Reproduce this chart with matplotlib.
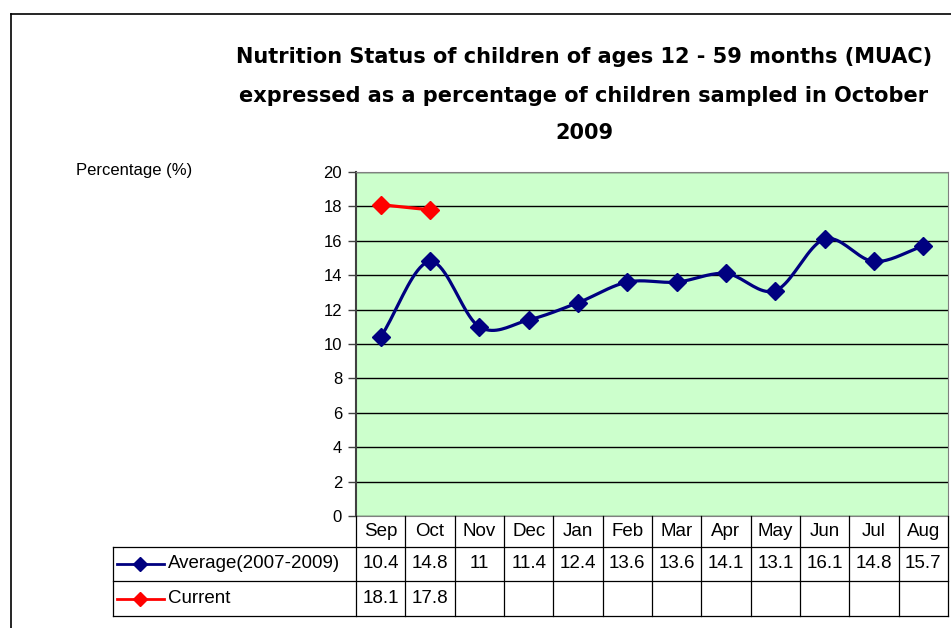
import numpy as np
import matplotlib.pyplot as plt
from matplotlib.lines import Line2D

months = ["Sep", "Oct", "Nov", "Dec", "Jan", "Feb", "Mar", "Apr", "May", "Jun", "Jul", "Aug"]
average = [10.4, 14.8, 11, 11.4, 12.4, 13.6, 13.6, 14.1, 13.1, 16.1, 14.8, 15.7]
average_lbl = ["10.4", "14.8", "11", "11.4", "12.4", "13.6", "13.6", "14.1", "13.1", "16.1", "14.8", "15.7"]
current = [18.1, 17.8]
current_lbl = ["18.1", "17.8"]

navy = "#000080"
W, H = 951, 628

plt.rcParams["font.family"] = ["Liberation Sans", "DejaVu Sans"]

fig = plt.figure(figsize=(W / 100, H / 100), dpi=100)

def fx(px):
    return px / W

def fy(py):
    return 1 - py / H

# outer chart frame
fig.add_artist(Line2D([fx(11), 1], [fy(14), fy(14)], color="black", lw=1.2))
fig.add_artist(Line2D([fx(11), fx(11)], [fy(14), 0], color="black", lw=1.2))

L, R, T, B = 356, 948, 172, 516
ax = fig.add_axes([fx(L), fy(B), fx(R) - fx(L), fy(T) - fy(B)])
ax.set_facecolor("#CCFFCC")
n = len(months)
ax.set_xlim(-0.5, n - 0.5)
ax.set_ylim(0, 20)
ax.set_yticks(range(0, 21, 2))
ax.set_xticks([])
ax.tick_params(axis="y", length=6, width=1, labelsize=12, pad=4, color="#404040")
ax.yaxis.grid(True, color="black", lw=1)
ax.set_axisbelow(True)
for s in ["top", "right", "bottom"]:
    ax.spines[s].set_color("#808080")
ax.spines["left"].set_color("#404040")
ax.spines["left"].set_linewidth(1.5)


def smooth(xs, ys, k=20):
    # Catmull-Rom style smoothing, like Excel's smoothed line
    xs = np.asarray(xs, float)
    ys = np.asarray(ys, float)
    px = np.concatenate([[2 * xs[0] - xs[1]], xs, [2 * xs[-1] - xs[-2]]])
    py = np.concatenate([[2 * ys[0] - ys[1]], ys, [2 * ys[-1] - ys[-2]]])
    ox, oy = [], []
    t = np.linspace(0, 1, k, endpoint=False)
    for i in range(1, len(px) - 2):
        for arr, out in ((px, ox), (py, oy)):
            p0, p1, p2, p3 = arr[i - 1], arr[i], arr[i + 1], arr[i + 2]
            out.extend(0.5 * ((2 * p1) + (-p0 + p2) * t
                              + (2 * p0 - 5 * p1 + 4 * p2 - p3) * t ** 2
                              + (-p0 + 3 * p1 - 3 * p2 + p3) * t ** 3))
    ox.append(xs[-1])
    oy.append(ys[-1])
    return ox, oy


xa = np.arange(n)
sx, sy = smooth(xa, average)
ax.plot(sx, sy, color=navy, lw=2.3, zorder=3)
ax.plot(xa, average, ls="none", marker="D", ms=9, color=navy, zorder=4)
ax.plot(xa[:len(current)], current, color="red", lw=2.3, marker="D", ms=9, zorder=4)

# data table below the plot
row_tops = [516, 547, 581, 616]
tab_left = 113
col_edges = [L + i * (R - L) / n for i in range(n + 1)]
lk = dict(color="black", lw=0.9)
for yy in row_tops[1:]:
    fig.add_artist(Line2D([fx(tab_left), fx(R)], [fy(yy), fy(yy)], **lk))
for xx in col_edges:
    fig.add_artist(Line2D([fx(xx), fx(xx)], [fy(516), fy(616)], **lk))
fig.add_artist(Line2D([fx(tab_left), fx(tab_left)], [fy(547), fy(616)], **lk))

tsz = 13.5
centers = [(row_tops[i] + row_tops[i + 1]) / 2 for i in range(3)]
for i in range(n):
    cx = fx((col_edges[i] + col_edges[i + 1]) / 2)
    fig.text(cx, fy(centers[0]), months[i], ha="center", va="center", fontsize=tsz)
    fig.text(cx, fy(centers[1]), average_lbl[i], ha="center", va="center", fontsize=tsz)
    if i < len(current_lbl):
        fig.text(cx, fy(centers[2]), current_lbl[i], ha="center", va="center", fontsize=tsz)

for yy, col, lab in ((centers[1], navy, "Average(2007-2009)"), (centers[2], "red", "Current")):
    fig.add_artist(Line2D([fx(117), fx(164)], [fy(yy), fy(yy)], color=col, lw=2))
    fig.add_artist(Line2D([fx(140)], [fy(yy)], color=col, marker="D", ms=7, ls="none"))
    fig.text(fx(168), fy(yy), lab, ha="left", va="center", fontsize=tsz)

fig.text(fx(76), fy(171), "Percentage (%)", ha="left", va="center", fontsize=12)

title_lines = ["Nutrition Status of children of ages 12 - 59 months (MUAC)",
               "expressed as a percentage of children sampled in October",
               "2009"]
for yy, line in zip([57, 96, 133], title_lines):
    fig.text(fx(584), fy(yy), line, ha="center", va="center", fontsize=15,
             fontweight="bold", family="DejaVu Sans")

fig.savefig("out.png", dpi=100)
